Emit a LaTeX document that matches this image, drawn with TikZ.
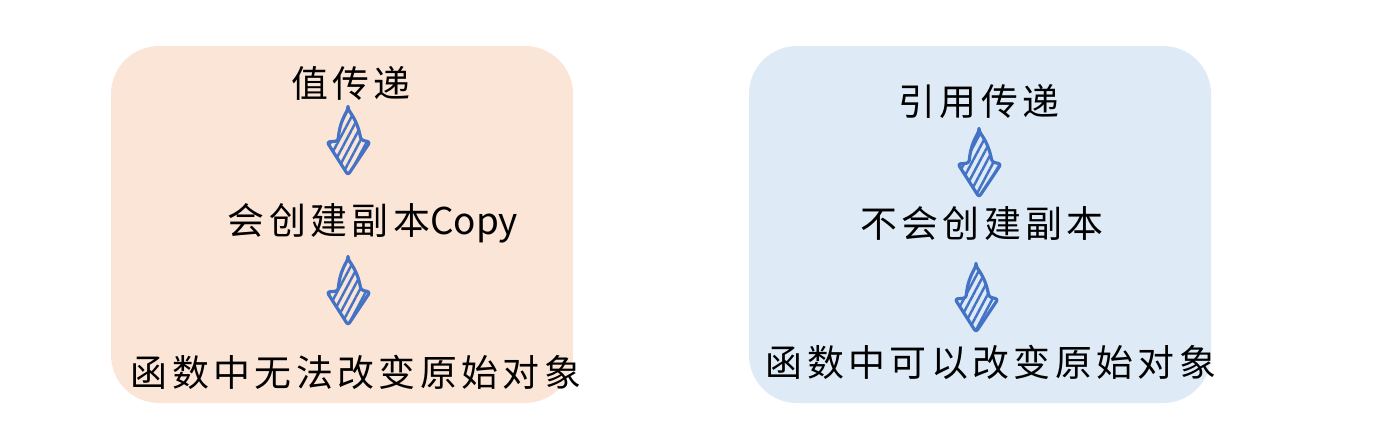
\documentclass[tikz,border=0pt]{standalone}
\usepackage{fontspec}
\setmainfont{Noto Sans CJK SC}[LetterSpace=12]
\newfontfamily\latinfont{Noto Sans CJK SC}
\usetikzlibrary{patterns.meta}
\definecolor{peach}{HTML}{FBE5D6}
\definecolor{paleblue}{HTML}{DEEBF7}
\definecolor{arrowblue}{HTML}{4472C4}
\tikzset{
  downarrow/.pic={
    \draw[arrowblue, line width=1.8pt, line join=round, rounded corners=1.5pt,
      pattern={Lines[angle=62,distance=3.6pt,line width=1.4pt]}, pattern color=arrowblue]
      (0,0) to[bend right=12] (-10,32) -- (-21,33) -- (0,66) -- (22,33) -- (13,31)
      to[bend right=12] (0,0) -- cycle;
  }
}
\begin{document}
\begin{tikzpicture}[x=0.02cm, y=-0.02cm,
    box/.style={rounded corners=0.96cm},
    txt/.style={font=\fontsize{21pt}{25pt}\selectfont, inner sep=0pt}]
  \useasboundingbox (0,0) rectangle (1381,441);
  % two panels
  \fill[peach, box] (111,46) rectangle (573,403);
  \fill[paleblue, box] (749,46) rectangle (1211,403);
  % value passing
  \node[txt] (val) at (351,83) {值传递};
  \node[txt] (copy) at (373,223) {会创建副本{\latinfont Copy}};
  \node[txt] (nochange) at (356,372) {函数中无法改变原始对象};
  \pic at (348,109) {downarrow};
  \pic at (348,259) {downarrow};
  % reference passing
  \node[txt] (ref) at (979,102) {引用传递};
  \node[txt] (nocopy) at (982,223) {不会创建副本};
  \node[txt] (change) at (991,362) {函数中可以改变原始对象};
  \pic at (979,131) {downarrow};
  \pic at (976,266) {downarrow};
\end{tikzpicture}
\end{document}
